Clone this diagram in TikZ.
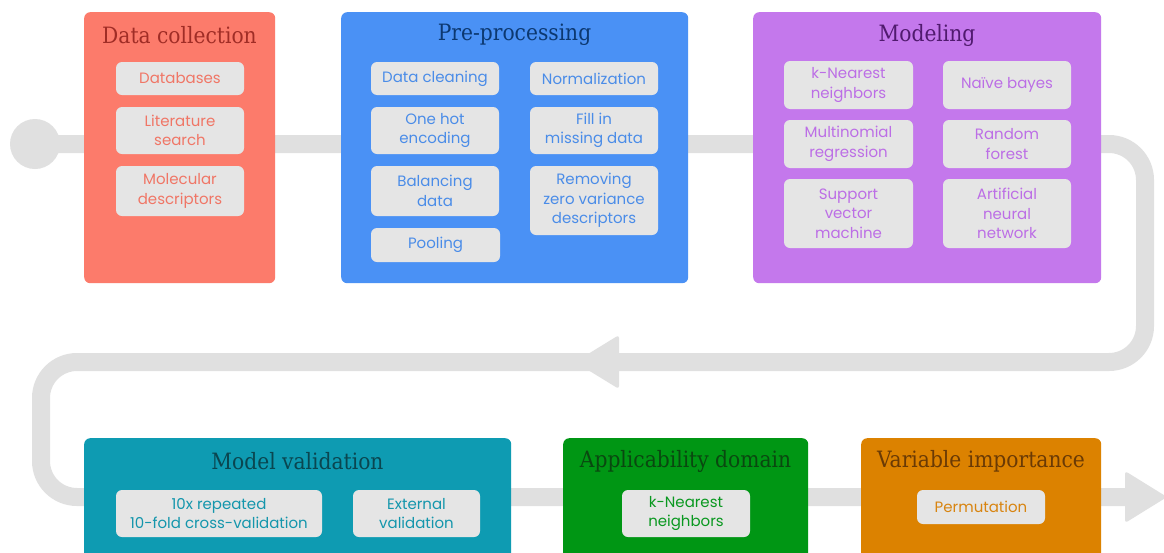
\documentclass[tikz,border=0pt]{standalone}
\usepackage{fontspec}
\setmainfont{Poppins}
\newfontfamily\titlefont{DejaVu Serif Condensed}
\definecolor{pipecol}{RGB}{224,224,224}
\definecolor{itembg}{RGB}{229,229,229}
\definecolor{dcbox}{RGB}{252,123,107}
\definecolor{dctitle}{RGB}{160,45,38}
\definecolor{dctext}{RGB}{240,118,102}
\definecolor{ppbox}{RGB}{74,145,245}
\definecolor{pptitle}{RGB}{12,56,112}
\definecolor{pptext}{RGB}{74,140,232}
\definecolor{mobox}{RGB}{196,120,236}
\definecolor{motitle}{RGB}{80,26,110}
\definecolor{motext}{RGB}{188,110,230}
\definecolor{mvbox}{RGB}{14,155,178}
\definecolor{mvtitle}{RGB}{10,70,80}
\definecolor{mvtext}{RGB}{20,150,172}
\definecolor{adbox}{RGB}{0,150,20}
\definecolor{adtitle}{RGB}{10,72,16}
\definecolor{adtext}{RGB}{10,152,32}
\definecolor{vibox}{RGB}{220,130,0}
\definecolor{vititle}{RGB}{106,58,5}
\definecolor{vitext}{RGB}{216,132,16}
\tikzset{
  pipe/.style={draw=pipecol, line width=18pt, rounded corners=36pt},
  stagebox/.style={fill=#1, rounded corners=6pt, anchor=north west, inner sep=0pt},
  stagetitle/.style={text=#1, font=\titlefont\fontsize{22.5}{26}\selectfont, inner sep=0pt},
  item/.style={fill=itembg, rounded corners=6pt, text=#1, font=\fontsize{15}{19.5}\selectfont, align=center, inner sep=0pt},
}
\begin{document}
\begin{tikzpicture}[x=1pt,y=-1pt]
\useasboundingbox (0,0) rectangle (1164,552);
\clip (0,0) rectangle (1164,552);
\fill[white] (0,0) rectangle (1164,552);
% pipeline
\node[circle, fill=pipecol, minimum size=50pt, inner sep=0pt] (start) at (35,144) {};
\coordinate (finish) at (1128,497);
\draw[pipe] (start.center) -- (1145,144) -- (1145,362) -- (41,362) -- (41,497) -- (finish);
\fill[pipecol, rounded corners=3pt] (575,362) -- (619,335) -- (619,389) -- cycle;
\fill[pipecol, rounded corners=3pt] (1167,497) -- (1125,471) -- (1125,523) -- cycle;
% Data collection
\node[stagebox=dcbox, minimum width=191pt, minimum height=271pt] (dc) at (84,12) {};
\node[stagetitle=dctitle] (dct) at (179.5,35) {Data collection};
\node[item=dctext, minimum width=128pt, minimum height=33pt] (dc1) at (180,78.5) {Databases};
\node[item=dctext, minimum width=128pt, minimum height=47pt] (dc2) at (180,130.5) {Literature\\search};
\node[item=dctext, minimum width=128pt, minimum height=50pt] (dc3) at (180,191) {Molecular\\descriptors};
% Pre-processing
\node[stagebox=ppbox, minimum width=347pt, minimum height=271pt] (pp) at (341,12) {};
\node[stagetitle=pptitle] (ppt) at (514.5,35) {Pre-processing};
\node[item=pptext, minimum width=128pt, minimum height=33pt] (pp1) at (435,78.5) {Data cleaning};
\node[item=pptext, minimum width=128pt, minimum height=33pt] (pp2) at (594,78.5) {Normalization};
\node[item=pptext, minimum width=128pt, minimum height=47pt] (pp3) at (435,130.5) {One hot\\encoding};
\node[item=pptext, minimum width=128pt, minimum height=47pt] (pp4) at (594,130.5) {Fill in\\missing data};
\node[item=pptext, minimum width=128pt, minimum height=50pt] (pp5) at (435,191) {Balancing\\data};
\node[item=pptext, minimum width=128pt, minimum height=69pt] (pp6) at (594,200.5) {Removing\\zero variance\\descriptors};
\node[item=pptext, minimum width=129pt, minimum height=34pt] (pp7) at (435.5,245) {Pooling};
% Modeling
\node[stagebox=mobox, minimum width=348pt, minimum height=271pt] (mo) at (753,12) {};
\node[stagetitle=motitle] (mot) at (927,35) {Modeling};
\node[item=motext, minimum width=129pt, minimum height=48pt] (mo1) at (848.5,85) {k-Nearest\\neighbors};
\node[item=motext, minimum width=128pt, minimum height=48pt] (mo2) at (1007,85) {Naïve bayes};
\node[item=motext, minimum width=129pt, minimum height=48pt] (mo3) at (848.5,144) {Multinomial\\regression};
\node[item=motext, minimum width=128pt, minimum height=48pt] (mo4) at (1007,144) {Random\\forest};
\node[item=motext, minimum width=129pt, minimum height=69pt] (mo5) at (848.5,213.5) {Support\\vector\\machine};
\node[item=motext, minimum width=128pt, minimum height=69pt] (mo6) at (1007,213.5) {Artificial\\neural\\network};
% Model validation
\node[stagebox=mvbox, minimum width=427pt, minimum height=140pt] (mv) at (84,438) {};
\node[stagetitle=mvtitle] (mvt) at (297.5,461) {Model validation};
\node[item=mvtext, minimum width=206pt, minimum height=47pt] (mv1) at (219,513.5) {10x repeated\\10-fold cross-validation};
\node[item=mvtext, minimum width=127pt, minimum height=47pt] (mv2) at (416.5,513.5) {External\\validation};
% Applicability domain
\node[stagebox=adbox, minimum width=245pt, minimum height=140pt] (ad) at (563,438) {};
\node[stagetitle=adtitle] (adt) at (685.5,461) {Applicability domain};
\node[item=adtext, minimum width=128pt, minimum height=47pt] (ad1) at (686,513.5) {k-Nearest\\neighbors};
% Variable importance
\node[stagebox=vibox, minimum width=240pt, minimum height=140pt] (vi) at (861,438) {};
\node[stagetitle=vititle] (vit) at (981,461) {Variable importance};
\node[item=vitext, minimum width=128pt, minimum height=34pt] (vi1) at (981,507) {Permutation};
\end{tikzpicture}
\end{document}
